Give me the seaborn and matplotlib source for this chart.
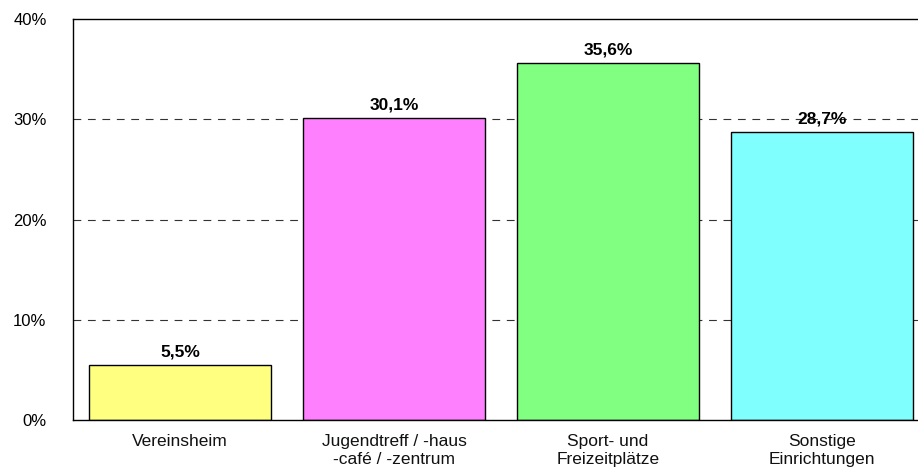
import matplotlib
matplotlib.use("Agg")
import matplotlib.pyplot as plt
import seaborn as sns
import pandas as pd

categories = ["Vereinsheim", "Jugendtreff / -haus\n-café / -zentrum", "Sport- und\nFreizeitplätze", "Sonstige\nEinrichtungen"]
values = [5.5, 30.1, 35.6, 28.7]
labels = ["5,5%", "30,1%", "35,6%", "28,7%"]
colors = ["#FFFF80", "#FF80FF", "#80FF80", "#80FFFF"]
yticks = [0, 10, 20, 30, 40]
ytick_labels = ["0%", "10%", "20%", "30%", "40%"]

sns.set_theme(style="white")
plt.rcParams['font.family'] = ['Liberation Sans', 'DejaVu Sans']

df = pd.DataFrame({"cat": categories, "val": values})

fig = plt.figure(figsize=(9.18, 4.74), dpi=100)
ax = fig.add_axes([73/918, (474-420)/474, 856/918, (420-19)/474])

sns.barplot(data=df, x="cat", y="val", hue="cat", palette=colors, legend=False,
            saturation=1, width=0.85, edgecolor="black", linewidth=1.0, ax=ax, zorder=2)

ax.set_ylim(0, 40)
ax.set_xlim(-0.5, 3.5)
ax.set_yticks(yticks)
ax.set_yticklabels(ytick_labels, fontsize=12, color="black")
ax.tick_params(axis="x", labelsize=12.5, colors="#111111", length=0, pad=10)
ax.tick_params(axis="y", length=0, pad=19)
for t in ax.get_xticklabels():
    t.set_linespacing(1.3)
ax.set_xlabel("")
ax.set_ylabel("")

for y in [10, 20, 30]:
    ax.axhline(y, color="#333333", linestyle=(0, (7, 6)), linewidth=0.8, zorder=1)

for i, (v, lab) in enumerate(zip(values, labels)):
    ax.annotate(lab, (i, v), xytext=(0, 4), textcoords="offset points",
                ha="center", va="bottom", fontsize=12.5, fontweight="bold", color="black", zorder=3)

for s in ["left", "top", "bottom"]:
    ax.spines[s].set_color("black")
    ax.spines[s].set_linewidth(1.0)
ax.spines["right"].set_visible(False)

fig.savefig("out.png", dpi=100)
